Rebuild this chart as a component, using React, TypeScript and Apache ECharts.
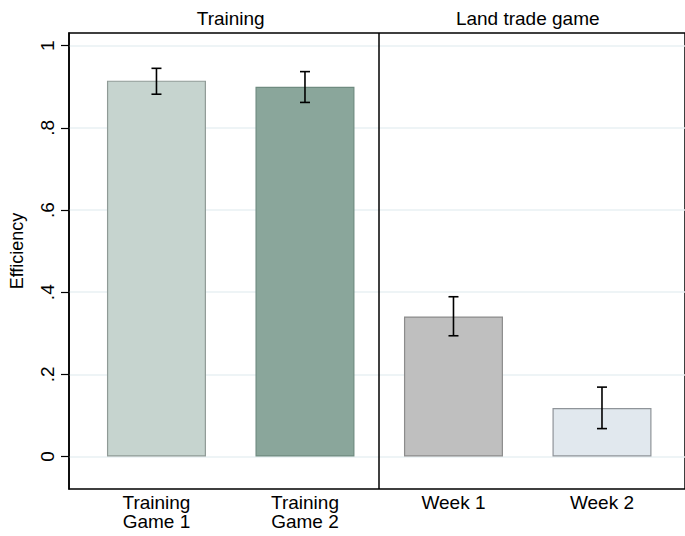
import React, { useEffect, useRef } from "react";
import * as echarts from "echarts";

const categories = ["Training\nGame 1", "Training\nGame 2", "Week 1", "Week 2"];
const positions = [1, 2, 3, 4];
const efficiency = [0.915, 0.9, 0.341, 0.118];
const ciLow = [0.882, 0.862, 0.294, 0.068];
const ciHigh = [0.945, 0.937, 0.389, 0.169];
const barColors = ["#c6d4cf", "#8aa69b", "#bfbfbf", "#e1e8ee"];
const barBorders = ["#8f9a96", "#6f8b80", "#8c8c8c", "#8f9499"];
const panelTitles = ["Training", "Land trade game"];
const panelCenters = [1.5, 3.5];
const panelDivider = 2.5;
const yTicks = [0, 0.2, 0.4, 0.6, 0.8, 1];

const X_MIN = 0.411;
const X_MAX = 4.559;
const Y_MIN = -0.079;
const Y_MAX = 1.031;
const FONT = "'Liberation Sans', Arial, Helvetica, sans-serif";

function fmtTick(v: number): string {
  if (Math.abs(v) < 1e-9) return "0";
  if (Math.abs(v - 1) < 1e-9) return "1";
  return String(Math.round(v * 10) / 10).replace(/^0/, "");
}

export default function App() {
  const ref = useRef<HTMLDivElement>(null);
  useEffect(() => {
    if (!ref.current) return;
    const chart = echarts.init(ref.current, undefined, { renderer: "svg" });
    const option: any = {
      animation: false,
      backgroundColor: "#ffffff",
      grid: {
        left: 68,
        right: -3,
        top: 33,
        bottom: 47,
        show: true,
        borderColor: "#000000",
        borderWidth: 1.5,
        backgroundColor: "transparent",
      },
      xAxis: {
        type: "value",
        min: X_MIN,
        max: X_MAX,
        axisLine: { show: false },
        axisTick: { show: false },
        axisLabel: { show: false },
        splitLine: { show: false },
      },
      yAxis: {
        type: "value",
        min: Y_MIN,
        max: Y_MAX,
        name: "Efficiency",
        nameLocation: "middle",
        nameRotate: 90,
        nameGap: 43,
        nameTextStyle: { fontFamily: FONT, fontSize: 18, color: "#000", padding: [0, 0, 0, 20] },
        axisLine: { show: true, lineStyle: { color: "#000", width: 1.5 } },
        axisTick: { show: true, length: 8, customValues: yTicks, lineStyle: { color: "#000", width: 1.2 } },
        axisLabel: {
          show: true,
          rotate: 90,
          margin: 12,
          customValues: yTicks,
          formatter: (v: number) => fmtTick(v),
          fontFamily: FONT,
          fontSize: 19,
          color: "#000",
        },
        splitLine: { show: true, lineStyle: { color: "#e8f0f3", width: 1.5 } },
      },
      series: [
        {
          type: "bar",
          barWidth: 99,
          data: positions.map((p, i) => ({
            value: [p, efficiency[i]],
            itemStyle: { color: barColors[i], borderColor: barBorders[i], borderWidth: 1.2 },
          })),
          markLine: {
            silent: true,
            symbol: "none",
            label: { show: false },
            lineStyle: { color: "#000", width: 1.5, type: "solid" },
            data: [{ xAxis: panelDivider }],
          },
        },
        {
          type: "custom",
          clip: false,
          encode: { x: 0, y: [1, 2] },
          data: positions.map((p, i) => [p, ciLow[i], ciHigh[i]]),
          renderItem: (params: any, api: any) => {
            const x = api.value(0);
            const top = api.coord([x, api.value(2)]);
            const bot = api.coord([x, api.value(1)]);
            const hw = 5;
            const st = { stroke: "#000", lineWidth: 1.6 };
            return {
              type: "group",
              children: [
                { type: "line", shape: { x1: top[0], y1: top[1], x2: bot[0], y2: bot[1] }, style: st },
                { type: "line", shape: { x1: top[0] - hw, y1: top[1], x2: top[0] + hw, y2: top[1] }, style: st },
                { type: "line", shape: { x1: bot[0] - hw, y1: bot[1], x2: bot[0] + hw, y2: bot[1] }, style: st },
              ],
            };
          },
          z: 5,
        },
        {
          type: "custom",
          clip: false,
          silent: true,
          encode: { x: 0, y: 1 },
          data: positions.map((p, i) => [p, Y_MIN, i]),
          renderItem: (params: any, api: any) => {
            const c = api.coord([api.value(0), Y_MIN]);
            return {
              type: "text",
              x: c[0],
              y: c[1] + 4,
              style: {
                text: categories[params.dataIndex],
                align: "center",
                verticalAlign: "top",
                fontFamily: FONT,
                fontSize: 19,
                lineHeight: 19,
                fill: "#000",
              },
            };
          },
        },
        {
          type: "custom",
          clip: false,
          silent: true,
          encode: { x: 0, y: 1 },
          data: panelCenters.map((p, i) => [p, Y_MAX, i]),
          renderItem: (params: any, api: any) => {
            const c = api.coord([api.value(0), Y_MAX]);
            return {
              type: "text",
              x: c[0],
              y: c[1] - 5,
              style: {
                text: panelTitles[params.dataIndex],
                align: "center",
                verticalAlign: "bottom",
                fontFamily: FONT,
                fontSize: 19,
                fill: "#000",
              },
            };
          },
        },
      ],
    };
    chart.setOption(option);
    return () => chart.dispose();
  }, []);
  return (
    <div
      ref={ref}
      style={{ position: "absolute", left: 0, top: 0, width: 685, height: 536 }}
    />
  );
}
